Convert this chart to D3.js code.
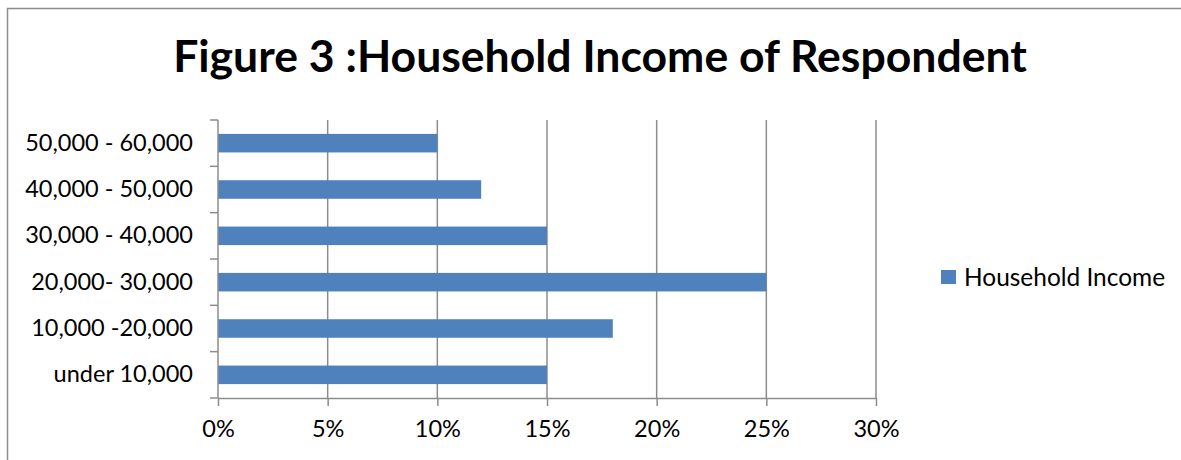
<!DOCTYPE html>
<html>
<head>
<meta charset="utf-8">
<script src="https://cdn.jsdelivr.net/npm/d3@7"></script>
<style>
  html, body { margin: 0; padding: 0; background: #fff; }
  svg { display: block; }
  text { font-family: Lato, "Open Sans", sans-serif; fill: #000; }
</style>
</head>
<body>
<script>
// Household income brackets, bottom to top as drawn
const categories = ["under 10,000", "10,000 -20,000", "20,000- 30,000", "30,000 - 40,000", "40,000 - 50,000", "50,000 - 60,000"];
const shares = [15, 18, 25, 15, 12, 10];
const xTicks = [0, 5, 10, 15, 20, 25, 30];
const seriesName = "Household Income";
const titleText = "Figure 3 :Household Income of Respondent";

const W = 1181, H = 460;
const plot = { left: 218, right: 876, top: 120, bottom: 398 };
const barColor = "#4F81BD";
const gridColor = "#8C8C8C";

const svg = d3.select("body").append("svg").attr("width", W).attr("height", H);

// chart frame
svg.append("rect")
  .attr("x", 7.5).attr("y", 8.5).attr("width", W + 20).attr("height", H + 20)
  .attr("fill", "none").attr("stroke", gridColor).attr("stroke-width", 1.5);

const x = d3.scaleLinear().domain([0, 30]).range([plot.left, plot.right]);
const y = d3.scaleBand().domain(categories.slice().reverse()).range([plot.top, plot.bottom]).padding(0);

// sizes a text element's font so its rendered width equals the target
function fitFont(sel, target, base) {
  sel.style("font-size", base + "px");
  const w = sel.node().getComputedTextLength();
  const size = base * target / w;
  sel.style("font-size", size + "px");
  return size;
}

// title
const title = svg.append("text")
  .attr("x", (173 + 1027) / 2).attr("y", 71.5)
  .attr("text-anchor", "middle").style("font-weight", "bold")
  .text(titleText);
fitFont(title, 854, 40);

// vertical gridlines
svg.append("g").selectAll("line")
  .data(xTicks.filter(t => t > 0))
  .join("line")
  .attr("x1", d => x(d)).attr("x2", d => x(d))
  .attr("y1", plot.top).attr("y2", plot.bottom)
  .attr("stroke", gridColor).attr("stroke-width", 1.5);

// bars
const barH = y.bandwidth() * 0.4;
svg.append("g").selectAll("rect")
  .data(categories.map((c, i) => ({ c, v: shares[i] })))
  .join("rect")
  .attr("x", x(0))
  .attr("y", d => y(d.c) + (y.bandwidth() - barH) / 2)
  .attr("width", d => x(d.v) - x(0))
  .attr("height", barH)
  .attr("fill", barColor);

// x axis
const xAxis = svg.append("g")
  .attr("transform", `translate(0,${plot.bottom})`)
  .call(d3.axisBottom(x).tickValues(xTicks).tickFormat(d => d + "%").tickSizeInner(8).tickSizeOuter(0).tickPadding(14));
xAxis.select(".domain").attr("stroke", gridColor).attr("stroke-width", 1.5);
xAxis.selectAll(".tick line").attr("stroke", gridColor).attr("stroke-width", 1.5);
xAxis.selectAll("text").style("font-family", "Lato, 'Open Sans', sans-serif").style("font-size", "21px").attr("fill", "#000");

// y axis: ticks on band boundaries
const yAxis = svg.append("g").attr("transform", `translate(${plot.left},0)`);
yAxis.append("line")
  .attr("x1", 0).attr("x2", 0).attr("y1", plot.top).attr("y2", plot.bottom)
  .attr("stroke", gridColor).attr("stroke-width", 1.5);
const bounds = y.domain().map(c => y(c)).concat([plot.bottom]);
yAxis.selectAll("line.tick")
  .data(bounds)
  .join("line").attr("class", "tick")
  .attr("x1", -8).attr("x2", 0)
  .attr("y1", d => d).attr("y2", d => d)
  .attr("stroke", gridColor).attr("stroke-width", 1.5);
const yLabels = yAxis.selectAll("text")
  .data(y.domain())
  .join("text")
  .attr("x", 193 - plot.left)
  .attr("y", d => y(d) + y.bandwidth() / 2 + 7.5)
  .attr("text-anchor", "end")
  .text(d => d);
// size the labels from the widest one
const widest = yLabels.filter(d => d === "50,000 - 60,000");
const ySize = fitFont(widest, 168, 20);
yLabels.style("font-size", ySize + "px");
xAxis.selectAll("text").style("font-size", ySize + "px");

// legend
const legend = svg.append("g");
legend.append("rect")
  .attr("x", 941).attr("y", 270).attr("width", 15).attr("height", 14)
  .attr("fill", barColor);
const legendText = legend.append("text")
  .attr("x", 964).attr("y", 285.5)
  .text(seriesName);
fitFont(legendText, 201, ySize);
</script>
</body>
</html>
